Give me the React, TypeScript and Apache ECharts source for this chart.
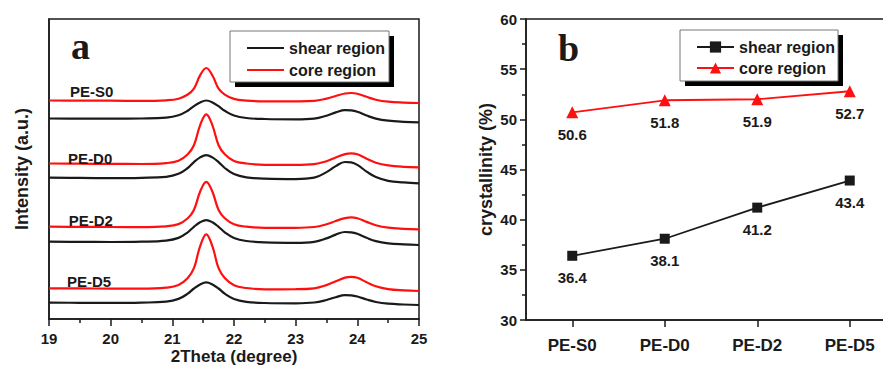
import React, { useEffect, useRef } from "react";
import * as echarts from "echarts";

// ---------- Panel a: XRD patterns (2Theta in degrees) ----------
const xDeg = [19, 19.5, 20, 20.5, 20.9, 21.1, 21.25, 21.35, 21.45, 21.55, 21.65, 21.75, 21.85, 22.0, 22.2, 22.5, 23.0, 23.3, 23.5, 23.65, 23.8, 23.9, 24.0, 24.15, 24.3, 24.5, 24.75, 25];

const coreS0 = [218.5, 218.4, 218.3, 218.1, 218.7, 220.3, 224.5, 230.4, 243.6, 251.0, 243.5, 230.3, 224.4, 220.1, 218.4, 217.6, 217.7, 218.2, 220.4, 223.0, 225.5, 226.0, 225.3, 222.2, 219.3, 217.3, 216.4, 216.0];
const shearS0 = [200.5, 200.4, 200.3, 200.5, 201.3, 203.7, 208.3, 212.9, 216.6, 218.5, 216.6, 212.8, 208.2, 203.5, 201.0, 200.0, 199.7, 200.4, 203.3, 206.6, 208.9, 208.6, 207.2, 203.5, 200.4, 198.3, 197.2, 196.7];
const coreD0 = [155.5, 155.3, 155.1, 155.0, 155.9, 158.3, 164.8, 173.8, 193.7, 204.7, 193.7, 173.8, 164.8, 158.1, 155.5, 154.2, 154.2, 154.9, 157.8, 161.5, 164.9, 165.7, 164.7, 160.3, 156.3, 153.6, 152.2, 151.7];
const shearD0 = [141.3, 141.1, 140.9, 141.2, 142.2, 145.2, 151.0, 156.9, 161.6, 163.9, 161.6, 156.9, 151.0, 144.9, 141.7, 140.3, 139.9, 141.3, 146.9, 152.9, 157.0, 156.6, 154.1, 147.4, 141.9, 138.2, 136.6, 135.7];
const coreD2 = [92.3, 92.1, 92.0, 91.9, 92.7, 94.9, 100.8, 109.0, 127.2, 137.2, 127.2, 109.0, 100.8, 94.8, 92.3, 91.2, 91.2, 92.0, 94.7, 98.0, 100.9, 101.7, 100.8, 97.1, 93.7, 91.3, 90.2, 89.7];
const shearD2 = [77.3, 77.1, 77.0, 77.3, 78.4, 81.1, 86.7, 92.2, 96.7, 98.9, 96.7, 92.2, 86.7, 81.0, 78.0, 76.6, 76.2, 77.2, 80.6, 84.4, 87.0, 86.7, 85.2, 81.2, 77.9, 75.7, 74.6, 74.0];
const coreD5 = [30.7, 30.6, 30.4, 30.3, 31.3, 33.9, 41.0, 50.8, 72.7, 84.7, 72.7, 50.8, 41.0, 33.8, 31.0, 29.7, 29.8, 30.7, 33.9, 37.7, 41.4, 42.2, 41.2, 36.8, 32.7, 29.9, 28.6, 28.0];
const shearD5 = [16.3, 16.2, 16.1, 16.4, 17.4, 20.1, 25.3, 30.5, 34.6, 36.7, 34.6, 30.5, 25.3, 20.0, 17.2, 16.0, 15.7, 16.5, 19.0, 21.8, 23.8, 23.6, 22.5, 19.5, 17.0, 15.3, 14.5, 14.0];

const sampleNames = ["PE-S0", "PE-D0", "PE-D2", "PE-D5"];
const coreCurves = [coreS0, coreD0, coreD2, coreD5];
const shearCurves = [shearS0, shearD0, shearD2, shearD5];
// annotation anchors (2Theta, intensity) for the sample names
const nameAnchorX = [19.34, 19.31, 19.32, 19.29];
const nameAnchorY = [227.3, 160.7, 98.3, 37.3];

const xTicksA = { min: 19, max: 25, interval: 1 };

// ---------- Panel b: crystallinity ----------
const samples = ["PE-S0", "PE-D0", "PE-D2", "PE-D5"];
const shearCryst = [36.4, 38.1, 41.2, 43.9];
const shearCrystLabels = ["36.4", "38.1", "41.2", "43.4"];
const coreCryst = [50.7, 51.9, 52.0, 52.8];
const coreCrystLabels = ["50.6", "51.8", "51.9", "52.7"];

const SHEAR = "shear region";
const CORE = "core region";
const SHEAR_B = "shear region (b)";
const CORE_B = "core region (b)";

const INK = "#1a1a1a";
const RED = "#ff1010";
const FONT = '"Liberation Sans", Arial, sans-serif';

export default function App() {
  const ref = useRef<HTMLDivElement>(null);
  useEffect(() => {
    if (!ref.current) return;
    const chart = echarts.init(ref.current, undefined, { renderer: "svg" });

    const seriesA: any[] = [];
    for (let k = 0; k < sampleNames.length; k++) {
      seriesA.push({
        type: "line",
        name: SHEAR,
        xAxisIndex: 0,
        yAxisIndex: 0,
        data: xDeg.map((x, i) => [x, shearCurves[k][i]]),
        symbol: "none",
        smooth: 0.4,
        lineStyle: { color: INK, width: 2.2 },
        itemStyle: { color: INK },
        z: 3,
      });
      seriesA.push({
        type: "line",
        name: CORE,
        xAxisIndex: 0,
        yAxisIndex: 0,
        data: xDeg.map((x, i) => [x, coreCurves[k][i]]),
        symbol: "none",
        smooth: 0.4,
        lineStyle: { color: RED, width: 2.2 },
        itemStyle: { color: RED },
        z: 3,
        markPoint: {
          silent: true,
          symbol: "circle",
          symbolSize: 0,
          data: [
            {
              coord: [nameAnchorX[k], nameAnchorY[k]],
              label: {
                show: true,
                position: [0, 0],
                align: "left",
                verticalAlign: "middle",
                formatter: sampleNames[k],
                color: INK,
                fontFamily: FONT,
                fontWeight: "bold",
                fontSize: 15,
              },
            },
          ],
        },
      });
    }

    const labelStyle = {
      show: true,
      position: "bottom",
      distance: 9,
      color: INK,
      fontFamily: FONT,
      fontWeight: "bold",
      fontSize: 15,
    };

    const gridCommon = {
      show: true,
      borderColor: INK,
      borderWidth: 1.5,
      backgroundColor: "transparent",
      containLabel: false,
      outerBoundsMode: "none",
    };

    const option: any = {
      animation: false,
      backgroundColor: "#fff",
      textStyle: { fontFamily: FONT },
      grid: [
        { ...gridCommon, left: 49, top: 19, width: 370, height: 300 },
        { ...gridCommon, left: 526, top: 19, width: 370, height: 301 },
      ],
      xAxis: [
        {
          type: "value",
          gridIndex: 0,
          min: xTicksA.min,
          max: xTicksA.max,
          interval: xTicksA.interval,
          name: "2Theta (degree)",
          nameLocation: "middle",
          nameGap: 28,
          nameMoveOverlap: false,
          nameTextStyle: { color: INK, fontFamily: FONT, fontWeight: "bold", fontSize: 17, lineHeight: 18 },
          axisLine: { show: true, onZero: false, lineStyle: { color: INK, width: 1.5 } },
          axisTick: { show: true, inside: false, length: 7, lineStyle: { color: INK, width: 1.5 } },
          minorTick: { show: true, splitNumber: 2, length: 4, lineStyle: { color: INK, width: 1.5 } },
          axisLabel: { color: INK, fontFamily: FONT, fontWeight: "bold", fontSize: 15, margin: 12 },
          splitLine: { show: false },
        },
        {
          type: "category",
          gridIndex: 1,
          data: samples,
          boundaryGap: true,
          axisLine: { show: true, onZero: false, lineStyle: { color: INK, width: 1.5 } },
          axisTick: { show: true, alignWithLabel: true, inside: false, length: 7, lineStyle: { color: INK, width: 1.5 } },
          axisLabel: { color: INK, fontFamily: FONT, fontWeight: "bold", fontSize: 17, margin: 17 },
          splitLine: { show: false },
        },
      ],
      yAxis: [
        {
          type: "value",
          gridIndex: 0,
          min: 0,
          max: 300,
          name: "Intensity (a.u.)",
          nameLocation: "middle",
          nameGap: 18,
          nameMoveOverlap: false,
          nameTextStyle: { color: INK, fontFamily: FONT, fontWeight: "bold", fontSize: 18 },
          axisLine: { show: true, onZero: false, lineStyle: { color: INK, width: 1.5 } },
          axisTick: { show: false },
          axisLabel: { show: false },
          splitLine: { show: false },
        },
        {
          type: "value",
          gridIndex: 1,
          min: 30,
          max: 60,
          interval: 5,
          name: "crystallinity (%)",
          nameLocation: "middle",
          nameGap: 31,
          nameMoveOverlap: false,
          nameTextStyle: { color: INK, fontFamily: FONT, fontWeight: "bold", fontSize: 18 },
          axisLine: { show: true, onZero: false, lineStyle: { color: INK, width: 1.5 } },
          axisTick: { show: true, inside: false, length: 6, lineStyle: { color: INK, width: 1.5 } },
          minorTick: { show: true, splitNumber: 2, length: 4, lineStyle: { color: INK, width: 1.5 } },
          axisLabel: { color: INK, fontFamily: FONT, fontWeight: "bold", fontSize: 15, margin: 9 },
          splitLine: { show: false },
        },
      ],
      legend: [
        {
          orient: "vertical",
          left: 246,
          top: 40,
          itemWidth: 37,
          itemHeight: 14,
          itemGap: 6,
          padding: 0,
          z: 20,
          data: [SHEAR, CORE],
          itemStyle: { opacity: 0, borderWidth: 0 },
          textStyle: { color: INK, fontFamily: FONT, fontWeight: "bold", fontSize: 16 },
          selectedMode: false,
        },
        {
          orient: "vertical",
          left: 696,
          top: 39,
          itemWidth: 37,
          itemHeight: 14,
          itemGap: 5,
          padding: 0,
          z: 20,
          data: [SHEAR_B, CORE_B],
          formatter: (n: string) => (n === SHEAR_B ? SHEAR : CORE),
          textStyle: { color: INK, fontFamily: FONT, fontWeight: "bold", fontSize: 16 },
          selectedMode: false,
        },
      ],
      graphic: [
        { type: "rect", z: 10, shape: { x: 235, y: 36, width: 159, height: 51 }, style: { fill: "#000" } },
        { type: "rect", z: 11, shape: { x: 230, y: 31, width: 159, height: 51 }, style: { fill: "#fff", stroke: "#777", lineWidth: 1 } },
        { type: "rect", z: 10, shape: { x: 685, y: 35, width: 158, height: 51 }, style: { fill: "#000" } },
        { type: "rect", z: 11, shape: { x: 680, y: 30, width: 158, height: 51 }, style: { fill: "#fff", stroke: "#777", lineWidth: 1 } },
        { type: "text", z: 12, x: 71, y: 65, style: { text: "a", fill: INK, font: 'bold 38px "Liberation Serif", "Times New Roman", serif', textVerticalAlign: "bottom", verticalAlign: "bottom" } },
        { type: "text", z: 12, x: 558, y: 67, style: { text: "b", fill: INK, font: 'bold 38px "Liberation Serif", "Times New Roman", serif', textVerticalAlign: "bottom", verticalAlign: "bottom" } },
      ],
      series: [
        ...seriesA,
        {
          type: "line",
          name: SHEAR_B,
          xAxisIndex: 1,
          yAxisIndex: 1,
          data: shearCryst,
          symbol: "rect",
          symbolSize: 10,
          lineStyle: { color: INK, width: 1.8 },
          itemStyle: { color: INK },
          label: { ...labelStyle, formatter: (p: any) => shearCrystLabels[p.dataIndex] },
          z: 5,
        },
        {
          type: "line",
          name: CORE_B,
          xAxisIndex: 1,
          yAxisIndex: 1,
          data: coreCryst,
          symbol: "triangle",
          symbolSize: 12,
          lineStyle: { color: RED, width: 1.8 },
          itemStyle: { color: RED },
          label: { ...labelStyle, formatter: (p: any) => coreCrystLabels[p.dataIndex] },
          z: 5,
        },
      ],
    };

    chart.setOption(option);
    return () => chart.dispose();
  }, []);

  return (
    <div
      ref={ref}
      style={{ position: "absolute", left: 0, top: 0, width: 883, height: 366, background: "#fff" }}
    />
  );
}
